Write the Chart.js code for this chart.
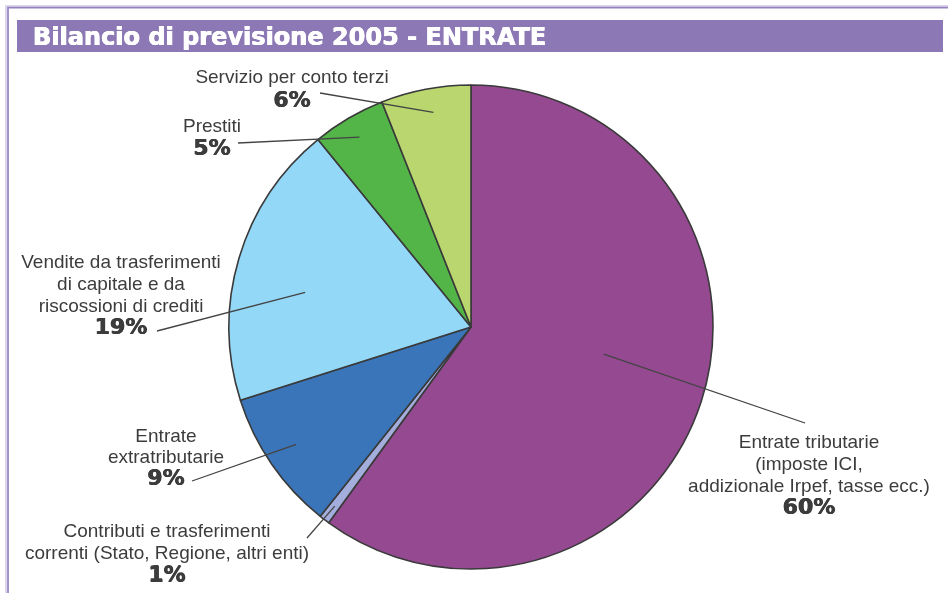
<!DOCTYPE html>
<html>
<head>
<meta charset="utf-8">
<script src="https://cdn.jsdelivr.net/npm/chart.js@4/dist/chart.umd.min.js"></script>
<style>
html,body{margin:0;padding:0;background:#fff;}
#wrap{width:948px;height:593px;position:relative;}
</style>
</head>
<body>
<div id="wrap"><canvas id="c" width="948" height="593"></canvas></div>
<script>
// ---- data ----
const titleText = "Bilancio di previsione 2005 - ENTRATE";
const categories = [
  ["Entrate tributarie", "(imposte ICI,", "addizionale Irpef, tasse ecc.)"],
  ["Contributi e trasferimenti", "correnti (Stato, Regione, altri enti)"],
  ["Entrate", "extratributarie"],
  ["Vendite da trasferimenti", "di capitale e da", "riscossioni di crediti"],
  ["Prestiti"],
  ["Servizio per conto terzi"]
];
const values = [60.0, 0.7, 9.4, 19.0, 4.9, 6.0];
const percentLabels = ["60%", "1%", "9%", "19%", "5%", "6%"];
const colors = ["#944991", "#a3aedc", "#3b75b9", "#94d8f8", "#53b448", "#b9d66f"];

// ---- annotation layout (label placement, not data) ----
const labelLayout = [
  {cx: 809, y: 448, lh: 22, pctGap: 22, t: 0.47, rf: 0.56, ox: 805, oy: 423},
  {cx: 167, y: 537, lh: 21.5, pctGap: 23, t: 0.5, rf: 0.93, ox: 307, oy: 538},
  {cx: 166, y: 442, lh: 21, pctGap: 22, t: 0.52, rf: 0.87, ox: 192, oy: 481},
  {cx: 121, y: 268, lh: 22, pctGap: 22, t: 0.43, rf: 0.70, ox: 157, oy: 331},
  {cx: 212, y: 132, lh: 22, pctGap: 23, t: 0.5, rf: 0.91, ox: 238, oy: 143},
  {cx: 292, y: 83, lh: 22, pctGap: 24, t: 0.54, rf: 0.90, ox: 320, oy: 93}
];

function heavyText(ctx, txt, x, y) {
  ctx.fillText(txt, x - 0.4, y);
  ctx.fillText(txt, x + 0.4, y);
  ctx.fillText(txt, x, y - 0.3);
}

const framePlugin = {
  id: 'frame',
  beforeDraw(chart) {
    const ctx = chart.ctx;
    ctx.save();
    ctx.fillStyle = '#ffffff';
    ctx.fillRect(0, 0, chart.width, chart.height);
    // outer frame lines
    ctx.strokeStyle = '#ddd5ec';
    ctx.lineWidth = 4;
    ctx.beginPath();
    ctx.moveTo(7, chart.height); ctx.lineTo(7, 7); ctx.lineTo(chart.width, 7);
    ctx.stroke();
    ctx.strokeStyle = '#9584c0';
    ctx.lineWidth = 1.6;
    ctx.beginPath();
    ctx.moveTo(8, chart.height); ctx.lineTo(8, 7.5); ctx.lineTo(chart.width, 7.5);
    ctx.stroke();
    // title band
    ctx.fillStyle = '#8c78b4';
    ctx.fillRect(17, 20, 926, 32);
    ctx.fillStyle = '#ffffff';
    ctx.font = 'bold 24px "DejaVu Sans"';
    ctx.textBaseline = 'alphabetic';
    ctx.textAlign = 'left';
    heavyText(ctx, titleText, 33, 45);
    ctx.restore();
  },
  afterDatasetsDraw(chart) {
    const ctx = chart.ctx;
    const meta = chart.getDatasetMeta(0);
    ctx.save();
    meta.data.forEach((arc, i) => {
      const L = labelLayout[i];
      const a = arc.startAngle + (arc.endAngle - arc.startAngle) * L.t;
      const r = arc.outerRadius * L.rf;
      const ix = arc.x + Math.cos(a) * r;
      const iy = arc.y + Math.sin(a) * r;
      ctx.strokeStyle = '#444444';
      ctx.lineWidth = 1.3;
      ctx.beginPath();
      ctx.moveTo(L.ox, L.oy);
      ctx.lineTo(ix, iy);
      ctx.stroke();
      // text
      ctx.fillStyle = '#3c3c3c';
      ctx.textAlign = 'center';
      ctx.textBaseline = 'alphabetic';
      ctx.font = '19px "Liberation Sans", Arial, sans-serif';
      const lines = categories[i];
      lines.forEach((ln, k) => ctx.fillText(ln, L.cx, L.y + k * L.lh));
      ctx.font = 'bold 22px "DejaVu Sans"';
      const py = L.y + (lines.length - 1) * L.lh + L.pctGap;
      heavyText(ctx, percentLabels[i], L.cx, py);
    });
    ctx.restore();
  }
};

new Chart(document.getElementById('c'), {
  type: 'pie',
  data: {
    labels: categories.map(c => c.join(' ')),
    datasets: [{
      data: values,
      backgroundColor: colors,
      borderColor: '#3a3a3a',
      borderWidth: 1.6
    }]
  },
  options: {
    responsive: false,
    devicePixelRatio: 1,
    animation: false,
    radius: 242,
    layout: {padding: {left: 229, right: 235, top: 85, bottom: 24}},
    plugins: {
      legend: {display: false},
      title: {display: false},
      tooltip: {enabled: false}
    }
  },
  plugins: [framePlugin]
});
</script>
</body>
</html>
